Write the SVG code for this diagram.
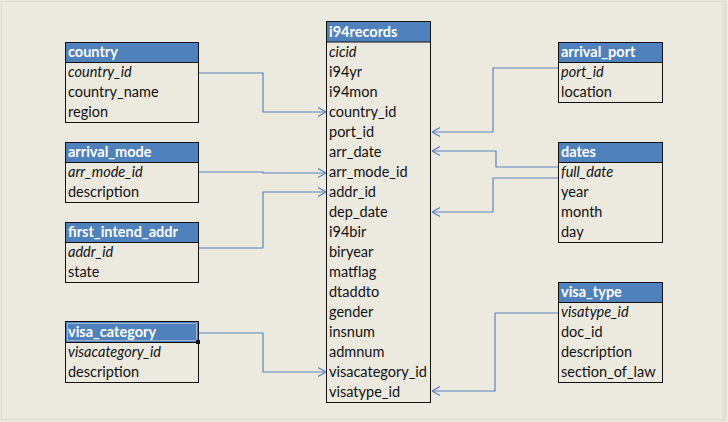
<svg xmlns="http://www.w3.org/2000/svg" width="728" height="422" viewBox="0 0 728 422">
<style>
.bg{fill:#ECE9DF}
.box{fill:#ECE9DF;stroke:#111;stroke-width:1}
.hdr{fill:#4F81BD;stroke:#111;stroke-width:1}
.ht{font-family:Lato,"Open Sans",sans-serif;font-size:14.5px;font-weight:bold;fill:#fff}
.t{font-family:Lato,"Open Sans",sans-serif;font-size:14.5px;fill:#111}
.k{font-style:italic}
.c{fill:none;stroke:#5A86C2;stroke-width:1.2}
</style>
<defs>
<marker id="ar" viewBox="0 0 8 10" refX="8" refY="5" markerWidth="8" markerHeight="10" markerUnits="userSpaceOnUse" orient="auto">
<path d="M0,0.5 L8,5 L0,9.5" fill="none" stroke="#5A86C2" stroke-width="1.2"/>
</marker>
</defs>
<rect class="bg" x="0" y="0" width="728" height="422"/>
<rect x="1.5" y="1.5" width="724" height="418" fill="none" stroke="#DCD9CF" stroke-width="1"/>
<rect x="722" y="0" width="3" height="422" fill="#E4E1D8"/>

<g id="connectors">
<path class="c" d="M198,73 H263 V112 H326" marker-end="url(#ar)"/>
<path class="c" d="M198,172 H263 V173 H326" marker-end="url(#ar)"/>
<path class="c" d="M198,248 H263 V192 H326" marker-end="url(#ar)"/>
<path class="c" d="M198,333 H263 V372 H326" marker-end="url(#ar)"/>
<path class="c" d="M558,68 H493 V132 H432" marker-end="url(#ar)"/>
<path class="c" d="M558,167 H496 V151 H432" marker-end="url(#ar)"/>
<path class="c" d="M558,178 H493 V212 H432" marker-end="url(#ar)"/>
<path class="c" d="M558,313 H495 V391 H432" marker-end="url(#ar)"/>
</g>

<g id="country">
<rect class="box" x="65.5" y="42.5" width="133" height="80"/>
<rect class="hdr" x="65.5" y="42.5" width="133" height="20"/>
<text class="ht" x="68" y="57">country</text>
<text class="t k" x="68" y="77">country_id</text>
<text class="t" x="68" y="97">country_name</text>
<text class="t" x="68" y="117">region</text>
</g>

<g id="arrival_mode">
<rect class="box" x="65.5" y="142.5" width="133" height="60"/>
<rect class="hdr" x="65.5" y="142.5" width="133" height="20"/>
<text class="ht" x="68" y="157">arrival_mode</text>
<text class="t k" x="68" y="177">arr_mode_id</text>
<text class="t" x="68" y="197">description</text>
</g>

<g id="first_intend_addr">
<rect class="box" x="65.5" y="222.5" width="133" height="60"/>
<rect class="hdr" x="65.5" y="222.5" width="133" height="20"/>
<text class="ht" x="68" y="237">first_intend_addr</text>
<text class="t k" x="68" y="257">addr_id</text>
<text class="t" x="68" y="277">state</text>
</g>

<g id="visa_category">
<rect class="box" x="65.5" y="322.5" width="133" height="60"/>
<rect class="hdr" x="65.5" y="321.5" width="133" height="21" stroke-width="2"/>
<rect x="67.5" y="323.5" width="129" height="17" fill="none" stroke="#ECE9DF" stroke-width="0.8" opacity="0.6"/>
<rect x="196" y="340" width="4" height="4" fill="#111"/>
<text class="ht" x="68" y="337">visa_category</text>
<text class="t k" x="68" y="357">visacategory_id</text>
<text class="t" x="68" y="377">description</text>
</g>

<g id="i94records">
<rect class="box" x="326.5" y="21.5" width="104" height="381"/>
<rect class="hdr" x="326.5" y="21.5" width="104" height="20.5"/>
<text class="ht" x="329" y="37">i94records</text>
<text class="t k" x="329" y="57">cicid</text>
<text class="t" x="329" y="77">i94yr</text>
<text class="t" x="329" y="97">i94mon</text>
<text class="t" x="329" y="117">country_id</text>
<text class="t" x="329" y="137">port_id</text>
<text class="t" x="329" y="157">arr_date</text>
<text class="t" x="329" y="177">arr_mode_id</text>
<text class="t" x="329" y="197">addr_id</text>
<text class="t" x="329" y="217">dep_date</text>
<text class="t" x="329" y="237">i94bir</text>
<text class="t" x="329" y="257">biryear</text>
<text class="t" x="329" y="277">matflag</text>
<text class="t" x="329" y="297">dtaddto</text>
<text class="t" x="329" y="317">gender</text>
<text class="t" x="329" y="337">insnum</text>
<text class="t" x="329" y="357">admnum</text>
<text class="t" x="329" y="377">visacategory_id</text>
<text class="t" x="329" y="397">visatype_id</text>
</g>

<g id="arrival_port">
<rect class="box" x="558.5" y="42.5" width="104" height="60"/>
<rect class="hdr" x="558.5" y="42.5" width="104" height="20"/>
<text class="ht" x="561" y="57">arrival_port</text>
<text class="t k" x="561" y="77">port_id</text>
<text class="t" x="561" y="97">location</text>
</g>

<g id="dates">
<rect class="box" x="558.5" y="142.5" width="104" height="100"/>
<rect class="hdr" x="558.5" y="142.5" width="104" height="20"/>
<text class="ht" x="561" y="157">dates</text>
<text class="t k" x="561" y="177">full_date</text>
<text class="t" x="561" y="197">year</text>
<text class="t" x="561" y="217">month</text>
<text class="t" x="561" y="237">day</text>
</g>

<g id="visa_type">
<rect class="box" x="558.5" y="282.5" width="104" height="100"/>
<rect class="hdr" x="558.5" y="282.5" width="104" height="20"/>
<text class="ht" x="561" y="297">visa_type</text>
<text class="t k" x="561" y="317">visatype_id</text>
<text class="t" x="561" y="337">doc_id</text>
<text class="t" x="561" y="357">description</text>
<text class="t" x="561" y="377">section_of_law</text>
</g>
</svg>
